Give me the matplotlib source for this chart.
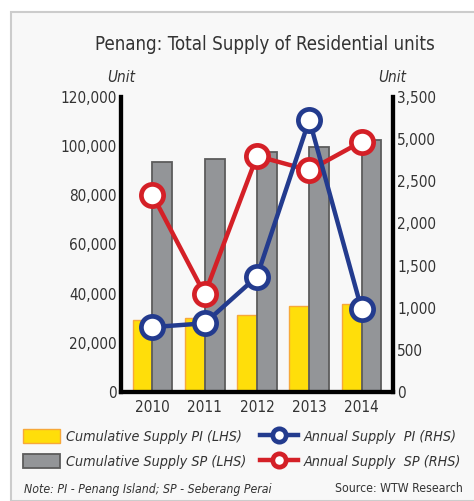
import matplotlib.pyplot as plt
import numpy as np
from matplotlib.patches import Rectangle

plt.rcParams['font.family'] = ['DejaVu Sans']
plt.rcParams['font.stretch'] = 'condensed'

# datos
years = ['2010', '2011', '2012', '2013', '2014']
cum_pi = [29300, 30200, 31300, 35000, 35800]
cum_sp = [93700, 94800, 97500, 99800, 102500]
ann_pi = [770, 815, 1370, 3230, 980]
ann_sp = [2340, 1160, 2800, 2630, 2970]

left_ticks = [0, 20000, 40000, 60000, 80000, 100000, 120000]
left_labels = ['0', '20,000', '40,000', '60,000', '80,000', '100,000', '120,000']
right_ticks = [0, 500, 1000, 1500, 2000, 2500, 3000, 3500]
right_labels = ['0', '500', '1,000', '1,500', '2,000', '2,500', '5,000', '3,500']

txt = '#333333'
x = np.arange(len(years))
w = 0.38

fig = plt.figure(figsize=(4.74, 5.01), dpi=100)
# marco gris de fondo
fig.patches.append(Rectangle((11/474, 0), 1.0, 1 - 12/501, transform=fig.transFigure,
                             facecolor='#f8f8f8', edgecolor='#cccccc', linewidth=1.5, zorder=-5))

ax = fig.add_axes([121/474, 109/501, 272/474, 295/501])
ax.patch.set_alpha(0)
b1 = ax.bar(x - w/2, cum_pi, w, color='#ffde0a', edgecolor='#f7a83a', linewidth=1)
b2 = ax.bar(x + w/2, cum_sp, w, color='#939598', edgecolor='#5c5c5c', linewidth=1.3)
ax.set_ylim(0, 120000)
ax.set_xlim(-0.6, 4.6)
ax.set_yticks(left_ticks)
ax.set_yticklabels(left_labels)
ax.set_xticks(x)
ax.set_xticklabels(years)
ax.tick_params(length=0, labelsize=11, colors=txt, pad=3)
ax.tick_params(axis='x', pad=6)

ax2 = ax.twinx()
ax2.patch.set_alpha(0)
l1, = ax2.plot(x, ann_pi, '-o', color='#233b8e', lw=3.2, ms=16, mfc='white', mew=3.4, zorder=3)
l2, = ax2.plot(x, ann_sp, '-o', color='#d42027', lw=3.2, ms=16, mfc='white', mew=3.4, zorder=2)
ax2.set_ylim(0, 3500)
ax2.set_yticks(right_ticks)
ax2.set_yticklabels(right_labels)
ax2.tick_params(length=0, labelsize=11, colors=txt, pad=3)

for a in (ax, ax2):
    a.spines['top'].set_visible(False)
    for s in ('left', 'right', 'bottom'):
        a.spines[s].set_linewidth(3)
        a.spines[s].set_color('black')

fig.text(265/474, 1 - 45/501, 'Penang: Total Supply of Residential units', ha='center', va='center',
         fontsize=13.4, color=txt)
fig.text(121/474, 1 - 78/501, 'Unit', ha='center', va='center', fontsize=11, style='italic', color=txt)
fig.text(392/474, 1 - 78/501, 'Unit', ha='center', va='center', fontsize=11, style='italic', color=txt)

leg = fig.legend([b1, b2, l1, l2],
                 ['Cumulative Supply PI (LHS)', 'Cumulative Supply SP (LHS)',
                  'Annual Supply  PI (RHS)', 'Annual Supply  SP (RHS)'],
                 ncol=2, loc='center left', bbox_to_anchor=(10/474, 1 - 449/501),
                 frameon=False, fontsize=10.3, handlelength=2.6, handleheight=1.1,
                 columnspacing=1.0, labelspacing=0.75, handletextpad=0.4, markerscale=0.6)
for t in leg.get_texts():
    t.set_style('italic')
    t.set_color(txt)

fig.text(24/474, 1 - 489/501, 'Note: PI - Penang Island; SP - Seberang Perai', ha='left', va='center',
         fontsize=8.8, style='italic', color=txt)
fig.text(463/474, 1 - 489/501, 'Source: WTW Research', ha='right', va='center', fontsize=8.8, color=txt)

plt.savefig('out.png', dpi=100)
